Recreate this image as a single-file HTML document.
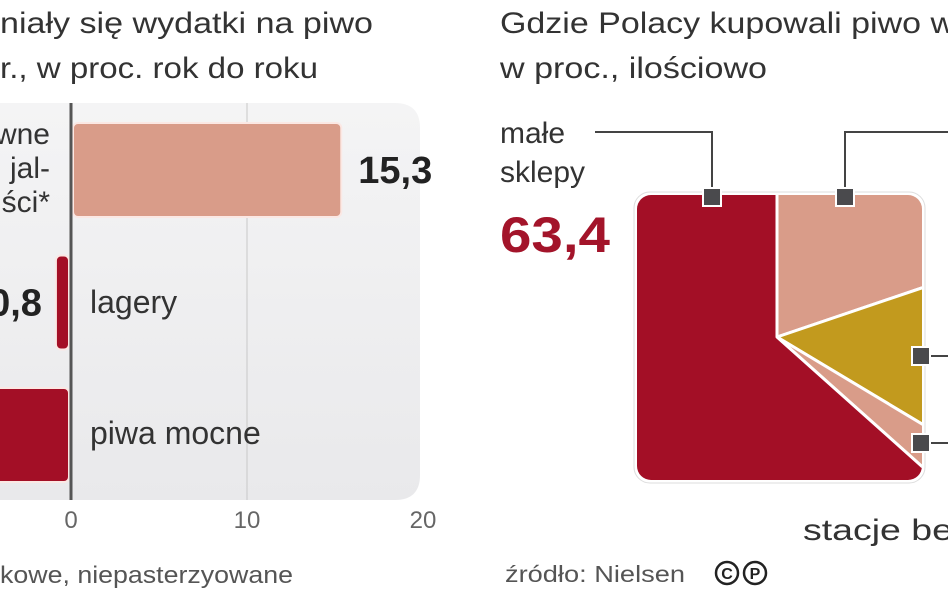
<!DOCTYPE html>
<html><head><meta charset="utf-8"><style>
html,body{margin:0;padding:0;background:#fff;width:948px;height:593px;overflow:hidden}
svg{display:block;font-family:"Liberation Sans",sans-serif}
</style></head><body>
<svg id="c" width="948" height="593" viewBox="0 0 948 593">
<defs>
<linearGradient id="pg" x1="0" y1="0" x2="0" y2="1"><stop offset="0" stop-color="#f4f4f5"/><stop offset="1" stop-color="#e9e9eb"/></linearGradient>
<clipPath id="sq"><rect x="637" y="195" width="285" height="285" rx="14"/></clipPath>
</defs>
<g fill="#333" font-size="30">
<text x="373" y="33" text-anchor="end" textLength="373" lengthAdjust="spacingAndGlyphs">niały się wydatki na piwo</text>
<text x="318" y="78" text-anchor="end" textLength="318" lengthAdjust="spacingAndGlyphs">r., w proc. rok do roku</text>
</g>
<g fill="#333" font-size="30">
<text x="500" y="33" textLength="455" lengthAdjust="spacingAndGlyphs">Gdzie Polacy kupowali piwo w</text>
<text x="500" y="78" textLength="267" lengthAdjust="spacingAndGlyphs">w proc., ilościowo</text>
</g>
<path d="M-20 103 H395 Q420 103 420 128 V475 Q420 500 395 500 H-20 Z" fill="url(#pg)"/>
<g id="bars"></g>
<g>
<rect x="634" y="192" width="291" height="291" rx="16" fill="#fff" stroke="#ddd" stroke-width="1"/>
<g id="pie" clip-path="url(#sq)"></g>
</g>
<g stroke="#444" stroke-width="2" fill="none">
<polyline points="595,132 712,132 712,197"/>
<polyline points="845,197 845,132 948,132"/>
<polyline points="921,356 948,356"/>
<polyline points="921,443 948,443"/>
</g>
<g fill="#4a4a4d" stroke="#fff" stroke-width="2">
<rect x="703" y="188" width="18" height="18"/><rect x="836" y="188" width="18" height="18"/>
<rect x="912" y="347" width="18" height="18"/><rect x="912" y="434" width="18" height="18"/>
</g>
<g font-size="30" fill="#333">
<text x="500" y="143">małe</text>
<text x="500" y="182">sklepy</text>
<text x="500" y="252" font-size="50" font-weight="bold" fill="#a3142a" textLength="110" lengthAdjust="spacingAndGlyphs">63,4</text>
<text x="803" y="540" textLength="150" lengthAdjust="spacingAndGlyphs">stacje be</text>
</g>
<text x="505" y="582" font-size="23" fill="#555" textLength="180" lengthAdjust="spacingAndGlyphs">źródło: Nielsen</text>
<g fill="none" stroke="#222" stroke-width="2.5">
<circle cx="727" cy="573" r="11"/><circle cx="755" cy="573" r="11"/>
<text x="727" y="579" font-size="16" font-weight="bold" text-anchor="middle" fill="#222" stroke="none">C</text>
<text x="755" y="579" font-size="16" font-weight="bold" text-anchor="middle" fill="#222" stroke="none">P</text>
</g>
<text x="293" y="583" font-size="24" fill="#555" text-anchor="end" textLength="293" lengthAdjust="spacingAndGlyphs">kowe, niepasterzyowane</text>
</svg>
<script>
const categories = ["specjalności", "lagery", "piwa mocne"];
const values = [15.3, -0.8, -6.5];
const valueLabels = ["15,3", "-0,8", ""];
const ticks = [0, 10, 20];
const pieLabels = ["małe sklepy", "inne", "dyskonty", "stacje benzynowe"];
const pieValues = [63.4, 19.8, 13.8, 3.0];
const pieColors = ["#a30f26", "#d99c89", "#c29a1e", "#d99c89"];

const NS = "http://www.w3.org/2000/svg";
function mk(tag, attrs, parent){const e=document.createElementNS(NS,tag);for(const k in attrs)e.setAttribute(k,attrs[k]);parent.appendChild(e);return e;}
const x = v => 71 + v * 17.6;
const bandTop = i => 123 + i * 132.5;
const bandH = 94;
const bars = document.getElementById('bars');
ticks.forEach(t => {
  if (t !== 0 && t < 20) {
    const g = mk('line',{x1:x(t),x2:x(t),y1:103,y2:500,stroke:'#c8c8c8','stroke-width':1},bars);
    
    
  }
  const tl = mk('text',{x:x(t),y:528,'font-size':24,fill:'#666','text-anchor':'middle'},bars);
  tl.textContent = t;
  
  
});
values.forEach((v,i) => {
  const x0 = Math.min(x(0), x(v)), w = Math.abs(x(v)-x(0));
  const r = mk('rect',{x:x0+ (v<0?-1:2), y:bandTop(i), width:Math.max(w-1,4), height:bandH, rx:5,
    fill: i===0 ? '#d99c89' : '#a30f26', stroke:'#fbe8e4','stroke-width':2},bars);
  
  
  if (valueLabels[i]) {
    const t = mk('text',{x: v>=0 ? x(v)+18 : x(v)-15, y: bandTop(i)+bandH/2+13, 'font-size':38,'font-weight':'bold',fill:'#222','text-anchor': v>=0?'start':'end'},bars);
    t.textContent = valueLabels[i];
    
    
  }
});
const cl1 = mk('text',{x:90,y:313,'font-size':32,fill:'#333'},bars); cl1.textContent='lagery';
 
const cl2 = mk('text',{x:90,y:444,'font-size':32,fill:'#333'},bars); cl2.textContent='piwa mocne';
 
['wne','jal-','ści*'].forEach((s,k)=>{
  const t = mk('text',{x:50,y:144+k*34,'font-size':30,fill:'#333','text-anchor':'end'},bars); t.textContent=s;
   
});
const ax = mk('line',{x1:71,x2:71,y1:103,y2:500,stroke:'#555','stroke-width':3},bars);
 

const pie = document.getElementById('pie');
const cx = 777, cy = 337, R = 400;
const total = pieValues.reduce((a,b)=>a+b,0);
const order = [1,2,3,0];
let a = 0;
order.forEach(i => {
  const a0 = a, a1 = a + pieValues[i]/total*2*Math.PI; a = a1;
  const p0 = [cx+R*Math.sin(a0), cy-R*Math.cos(a0)], p1=[cx+R*Math.sin(a1), cy-R*Math.cos(a1)];
  const large = (a1-a0) > Math.PI ? 1 : 0;
  const p = mk('path',{d:`M${cx},${cy} L${p0[0]},${p0[1]} A${R},${R} 0 ${large} 1 ${p1[0]},${p1[1]} Z`, fill:pieColors[i], stroke:'#fff','stroke-width':3,'stroke-linejoin':'round'},pie);
  
  
});
</script>
</body></html>
